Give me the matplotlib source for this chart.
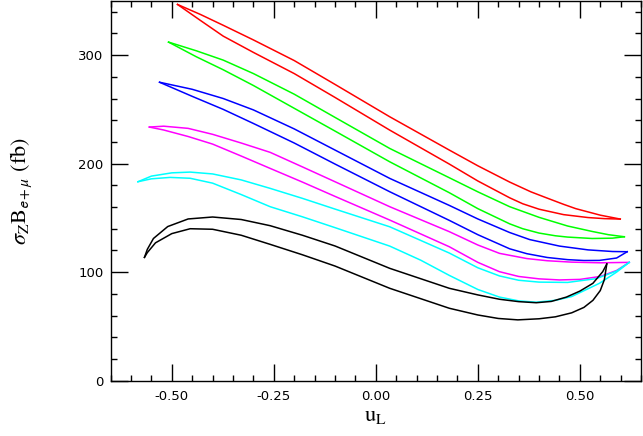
import matplotlib
matplotlib.use("Agg")
import matplotlib.pyplot as plt
from matplotlib.ticker import MultipleLocator, FormatStrFormatter

# values; each colour is a closed loop (upper + lower branch)
red_up_x = [-0.486, -0.43, -0.374, -0.30, -0.20, -0.1, 0.034, 0.18, 0.25, 0.328, 0.38, 0.418, 0.46, 0.49, 0.55, 0.599]
red_up_y = [346.7, 337.5, 327.5, 314, 295, 273.0, 243.2, 212.5, 198, 183, 174, 168.5, 162.5, 158.5, 152.5, 148.9]
red_lo_x = [-0.486, -0.43, -0.374, -0.30, -0.20, -0.1, 0.034, 0.18, 0.25, 0.328, 0.36, 0.40, 0.46, 0.52, 0.56, 0.599]
red_lo_y = [346.7, 332, 317.5, 302.5, 283, 261, 230.9, 199.6, 184, 168.5, 163, 158, 153, 150.3, 149.3, 148.9]

green_up_x = [-0.508, -0.44, -0.374, -0.30, -0.20, -0.1, 0.034, 0.18, 0.25, 0.328, 0.40, 0.47, 0.53, 0.57, 0.609]
green_up_y = [312, 304, 295.4, 283, 264, 242.6, 214, 187, 174, 160.3, 150.5, 142.5, 137.5, 134.5, 132.6]
green_lo_x = [-0.508, -0.44, -0.374, -0.30, -0.20, -0.1, 0.034, 0.18, 0.25, 0.328, 0.36, 0.40, 0.44, 0.47, 0.53, 0.58, 0.609]
green_lo_y = [312, 298.5, 286.5, 272, 251, 230, 201.7, 173.2, 158.5, 144.5, 140, 136, 133.5, 132.3, 131, 131.3, 132.6]

blue_up_x = [-0.530, -0.45, -0.374, -0.30, -0.20, -0.1, 0.034, 0.18, 0.25, 0.328, 0.377, 0.45, 0.52, 0.58, 0.616]
blue_up_y = [275, 268.5, 260, 249.5, 232, 212.5, 186.4, 161.5, 149, 136.5, 130, 124, 120.5, 119, 118.8]
blue_lo_x = [-0.530, -0.45, -0.374, -0.30, -0.20, -0.1, 0.034, 0.18, 0.25, 0.328, 0.37, 0.42, 0.47, 0.51, 0.548, 0.59, 0.616]
blue_lo_y = [275, 262, 250, 237, 219, 199.6, 174.1, 147.7, 134.5, 121.5, 117, 113.5, 111.5, 110.7, 110.8, 113, 118.8]

mag_up_x = [-0.555, -0.52, -0.46, -0.40, -0.33, -0.259, -0.18, -0.1, 0.034, 0.18, 0.25, 0.303, 0.37, 0.42, 0.48, 0.55, 0.621]
mag_up_y = [233.7, 234.5, 232.5, 227, 219, 210.4, 197, 183.3, 160.3, 137.3, 125, 117.3, 112.5, 110.5, 109.2, 108.6, 109]
mag_lo_x = [-0.555, -0.52, -0.46, -0.40, -0.33, -0.259, -0.18, -0.1, 0.034, 0.18, 0.25, 0.303, 0.35, 0.40, 0.45, 0.50, 0.55, 0.59, 0.621]
mag_lo_y = [233.7, 231, 225, 218, 207, 195.6, 183, 169.8, 148, 123.4, 109, 100.4, 96, 93.8, 92.8, 93.3, 96, 101.5, 109]

cyan_up_x = [-0.583, -0.55, -0.50, -0.455, -0.40, -0.33, -0.259, -0.18, -0.1, 0.034, 0.18, 0.25, 0.303, 0.35, 0.40, 0.47, 0.54, 0.59, 0.621]
cyan_up_y = [183.3, 188.5, 191.5, 192.2, 190.5, 185, 177.2, 168, 158.1, 141.8, 117.6, 104, 96.5, 92.5, 90.8, 90.5, 94, 101, 109]
cyan_lo_x = [-0.583, -0.55, -0.504, -0.455, -0.40, -0.33, -0.259, -0.18, -0.1, 0.034, 0.11, 0.18, 0.25, 0.303, 0.35, 0.393, 0.44, 0.48, 0.548, 0.59, 0.621]
cyan_lo_y = [183.3, 186, 187.3, 186.5, 182, 171.5, 160.3, 151, 141, 124, 111, 97, 84, 77, 73.5, 72.3, 74, 77.5, 89.7, 100, 109]

black_up_x = [-0.567, -0.56, -0.545, -0.51, -0.46, -0.40, -0.33, -0.259, -0.18, -0.1, 0.034, 0.18, 0.25, 0.303, 0.35, 0.393, 0.43, 0.467, 0.50, 0.532, 0.556, 0.566]
black_up_y = [113.6, 121, 131, 142, 149, 150.8, 148.5, 142.8, 134, 124.1, 103.5, 85.1, 79, 75, 72.8, 71.8, 73, 77, 82.5, 89.7, 100.4, 107.5]
black_lo_x = [-0.567, -0.56, -0.54, -0.50, -0.455, -0.40, -0.33, -0.259, -0.18, -0.1, 0.034, 0.18, 0.25, 0.30, 0.348, 0.40, 0.44, 0.48, 0.51, 0.532, 0.55, 0.56, 0.566]
black_lo_y = [113.6, 118, 127, 135.5, 140, 139.5, 134, 125.6, 116, 105.6, 85.1, 66.7, 60.5, 57.3, 56, 57, 58.8, 62.5, 67.5, 74, 83, 93, 107.5]

loops = [
    (red_up_x, red_up_y, red_lo_x, red_lo_y, '#ff0000'),
    (green_up_x, green_up_y, green_lo_x, green_lo_y, '#00ff00'),
    (blue_up_x, blue_up_y, blue_lo_x, blue_lo_y, '#0000ff'),
    (mag_up_x, mag_up_y, mag_lo_x, mag_lo_y, '#ff00ff'),
    (cyan_up_x, cyan_up_y, cyan_lo_x, cyan_lo_y, '#00ffff'),
    (black_up_x, black_up_y, black_lo_x, black_lo_y, '#000000'),
]

plt.rcParams['mathtext.fontset'] = 'stix'

fig = plt.figure(figsize=(6.43, 4.36), dpi=100)
ax = fig.add_axes([0.172, 0.127, 0.825, 0.871])

for ux, uy, lx, ly, col in loops:
    ax.plot(ux, uy, color=col, lw=1.1)
    ax.plot(lx, ly, color=col, lw=1.1)

ax.set_xlim(-0.65, 0.65)
ax.set_ylim(0, 350)
ax.xaxis.set_major_locator(MultipleLocator(0.25))
ax.xaxis.set_minor_locator(MultipleLocator(0.05))
ax.yaxis.set_major_locator(MultipleLocator(100))
ax.yaxis.set_minor_locator(MultipleLocator(20))
ax.xaxis.set_major_formatter(FormatStrFormatter('%.2f'))
ax.tick_params(which='both', direction='in', top=True, right=True, width=1.0)
ax.tick_params(which='major', length=12)
ax.tick_params(which='minor', length=4.5)
ax.tick_params(axis='x', which='major', pad=7, labelsize=9.5)
ax.tick_params(axis='y', which='major', pad=5, labelsize=9.5)
for s in ax.spines.values():
    s.set_linewidth(1.0)

ax.set_xlabel(r'$\mathrm{u_L}$', fontsize=16, labelpad=2)
ax.set_ylabel(r'$\sigma_{\mathrm{Z}}\mathrm{B}_{\mathsf{e+}\mu}$ (fb)', fontsize=16,
              family='STIXGeneral', labelpad=32)

fig.savefig('out.png', dpi=100)
